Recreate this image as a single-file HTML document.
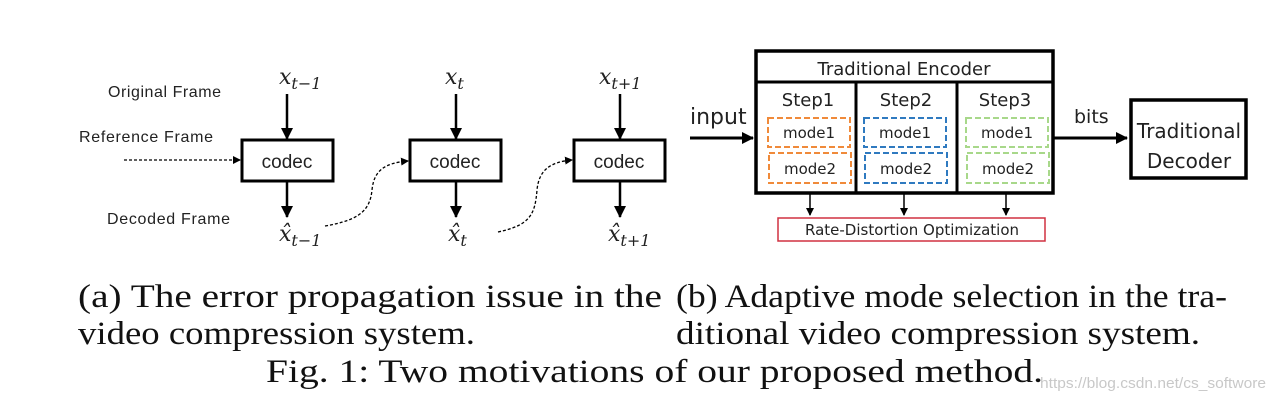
<!DOCTYPE html>
<html><head><style>body{margin:0;background:#fff}svg{display:block}</style></head>
<body>
<svg width="1277" height="400" viewBox="0 0 1277 400" xmlns="http://www.w3.org/2000/svg">
<defs>
<marker id="a" markerWidth="8" markerHeight="8" refX="7" refY="4" orient="auto" markerUnits="userSpaceOnUse"><path d="M0,0 L8,4 L0,8 z" fill="#000"/></marker>
<marker id="b" markerWidth="12" markerHeight="12" refX="11" refY="6" orient="auto" markerUnits="userSpaceOnUse"><path d="M0,0 L12,6 L0,12 z" fill="#000"/></marker>
</defs>
<g font-family="Liberation Sans, sans-serif" fill="#222" font-size="16" lengthAdjust="spacingAndGlyphs">
<text x="108" y="97" textLength="113">Original Frame</text>
<text x="79" y="142" textLength="134">Reference Frame</text>
<text x="107" y="224" textLength="123">Decoded Frame</text>
</g>
<g stroke="#000" stroke-width="3" fill="#fff">
<rect x="242" y="140" width="91" height="41"/>
<rect x="410" y="140" width="91" height="41"/>
<rect x="574" y="140" width="91" height="41"/>
</g>
<g font-family="Liberation Sans, sans-serif" font-size="19" text-anchor="middle" fill="#222">
<text x="287" y="168">codec</text><text x="455" y="168">codec</text><text x="619" y="168">codec</text>
</g>
<g stroke="#000" stroke-width="2.5" marker-end="url(#b)">
<line x1="287" y1="94" x2="287" y2="139"/><line x1="456" y1="94" x2="456" y2="139"/><line x1="620" y1="94" x2="620" y2="139"/>
<line x1="287" y1="182" x2="287" y2="217"/><line x1="456" y1="182" x2="456" y2="217"/><line x1="620" y1="182" x2="620" y2="217"/>
</g>
<g stroke="#000" stroke-width="1.3" stroke-dasharray="3,2" fill="none" marker-end="url(#a)">
<path d="M124,160 L240,160"/>
<path d="M325,226 C360,220 370,210 372,190 C374,170 385,163 408,161"/>
<path d="M498,232 C530,225 535,215 537,190 C539,170 550,162 572,160"/>
</g>
<g font-family="DejaVu Serif, serif" font-style="italic" fill="#222">
<text x="279" y="84" font-size="22">x<tspan font-size="16" dy="5">t−1</tspan></text>
<text x="445" y="84" font-size="22">x<tspan font-size="16" dy="5">t</tspan></text>
<text x="599" y="84" font-size="22">x<tspan font-size="16" dy="5">t+1</tspan></text>
<text x="279" y="241" font-size="22">x̂<tspan font-size="16" dy="5">t−1</tspan></text>
<text x="448" y="241" font-size="22">x̂<tspan font-size="16" dy="5">t</tspan></text>
<text x="608" y="241" font-size="22">x̂<tspan font-size="16" dy="5">t+1</tspan></text>
</g>
<rect x="756" y="51" width="297" height="142" fill="none" stroke="#000" stroke-width="3.5"/>
<line x1="756" y1="82" x2="1053" y2="82" stroke="#000" stroke-width="3"/>
<line x1="856" y1="82" x2="856" y2="193" stroke="#000" stroke-width="3"/>
<line x1="957" y1="82" x2="957" y2="193" stroke="#000" stroke-width="3"/>
<g font-family="DejaVu Sans, sans-serif" fill="#222">
<text x="904" y="75" font-size="18" text-anchor="middle">Traditional Encoder</text>
<text x="808" y="106" font-size="18" text-anchor="middle">Step1</text>
<text x="906" y="106" font-size="18" text-anchor="middle">Step2</text>
<text x="1005" y="106" font-size="18" text-anchor="middle">Step3</text>
<text x="690" y="124" font-size="22">input</text>
<text x="1074" y="123" font-size="19">bits</text>
<text x="1189" y="138" font-size="20" text-anchor="middle">Traditional</text>
<text x="1189" y="168" font-size="20" text-anchor="middle">Decoder</text>
<text x="912" y="235" font-size="15" text-anchor="middle">Rate-Distortion Optimization</text>
</g>
<g fill="none" stroke-width="2" stroke-dasharray="6,3">
<rect x="768" y="118" width="82" height="29" stroke="#f08a3a"/>
<rect x="769" y="153" width="82" height="30" stroke="#f08a3a"/>
<rect x="864" y="118" width="82" height="29" stroke="#2f7ac0"/>
<rect x="865" y="153" width="82" height="30" stroke="#2f7ac0"/>
<rect x="966" y="118" width="82" height="29" stroke="#a8d88a"/>
<rect x="967" y="153" width="82" height="30" stroke="#a8d88a"/>
</g>
<g font-family="DejaVu Sans, sans-serif" font-size="15" fill="#222" text-anchor="middle">
<text x="809" y="138">mode1</text><text x="810" y="174">mode2</text>
<text x="905" y="138">mode1</text><text x="906" y="174">mode2</text>
<text x="1007" y="138">mode1</text><text x="1008" y="174">mode2</text>
</g>
<g stroke="#000" stroke-width="3" marker-end="url(#b)">
<line x1="690" y1="138" x2="753" y2="138"/>
<line x1="1054" y1="138" x2="1127" y2="138"/>
</g>
<g stroke="#000" stroke-width="1.5" marker-end="url(#a)">
<line x1="810" y1="194" x2="810" y2="215"/><line x1="904" y1="194" x2="904" y2="215"/><line x1="1006" y1="194" x2="1006" y2="215"/>
</g>
<rect x="1131" y="100" width="115" height="78" fill="none" stroke="#000" stroke-width="3.5"/>
<rect x="778" y="218" width="267" height="23" fill="none" stroke="#d03040" stroke-width="1.5"/>
<g font-family="Liberation Serif, serif" font-size="33" fill="#111">
<text x="78" y="307" textLength="584" lengthAdjust="spacingAndGlyphs">(a) The error propagation issue in the</text>
<text x="676" y="307" textLength="551" lengthAdjust="spacingAndGlyphs">(b) Adaptive mode selection in the tra-</text>
<text x="78" y="344" textLength="397" lengthAdjust="spacingAndGlyphs">video compression system.</text>
<text x="676" y="344" textLength="524" lengthAdjust="spacingAndGlyphs">ditional video compression system.</text>
<text x="266" y="382" textLength="777" lengthAdjust="spacingAndGlyphs">Fig. 1: Two motivations of our proposed method.</text>
</g>
<text x="1040" y="388" font-family="Liberation Sans, sans-serif" font-size="15" fill="#c8c8c8" textLength="226" lengthAdjust="spacingAndGlyphs">https://blog.csdn.net/cs_softwore</text>
</svg>
</body></html>
